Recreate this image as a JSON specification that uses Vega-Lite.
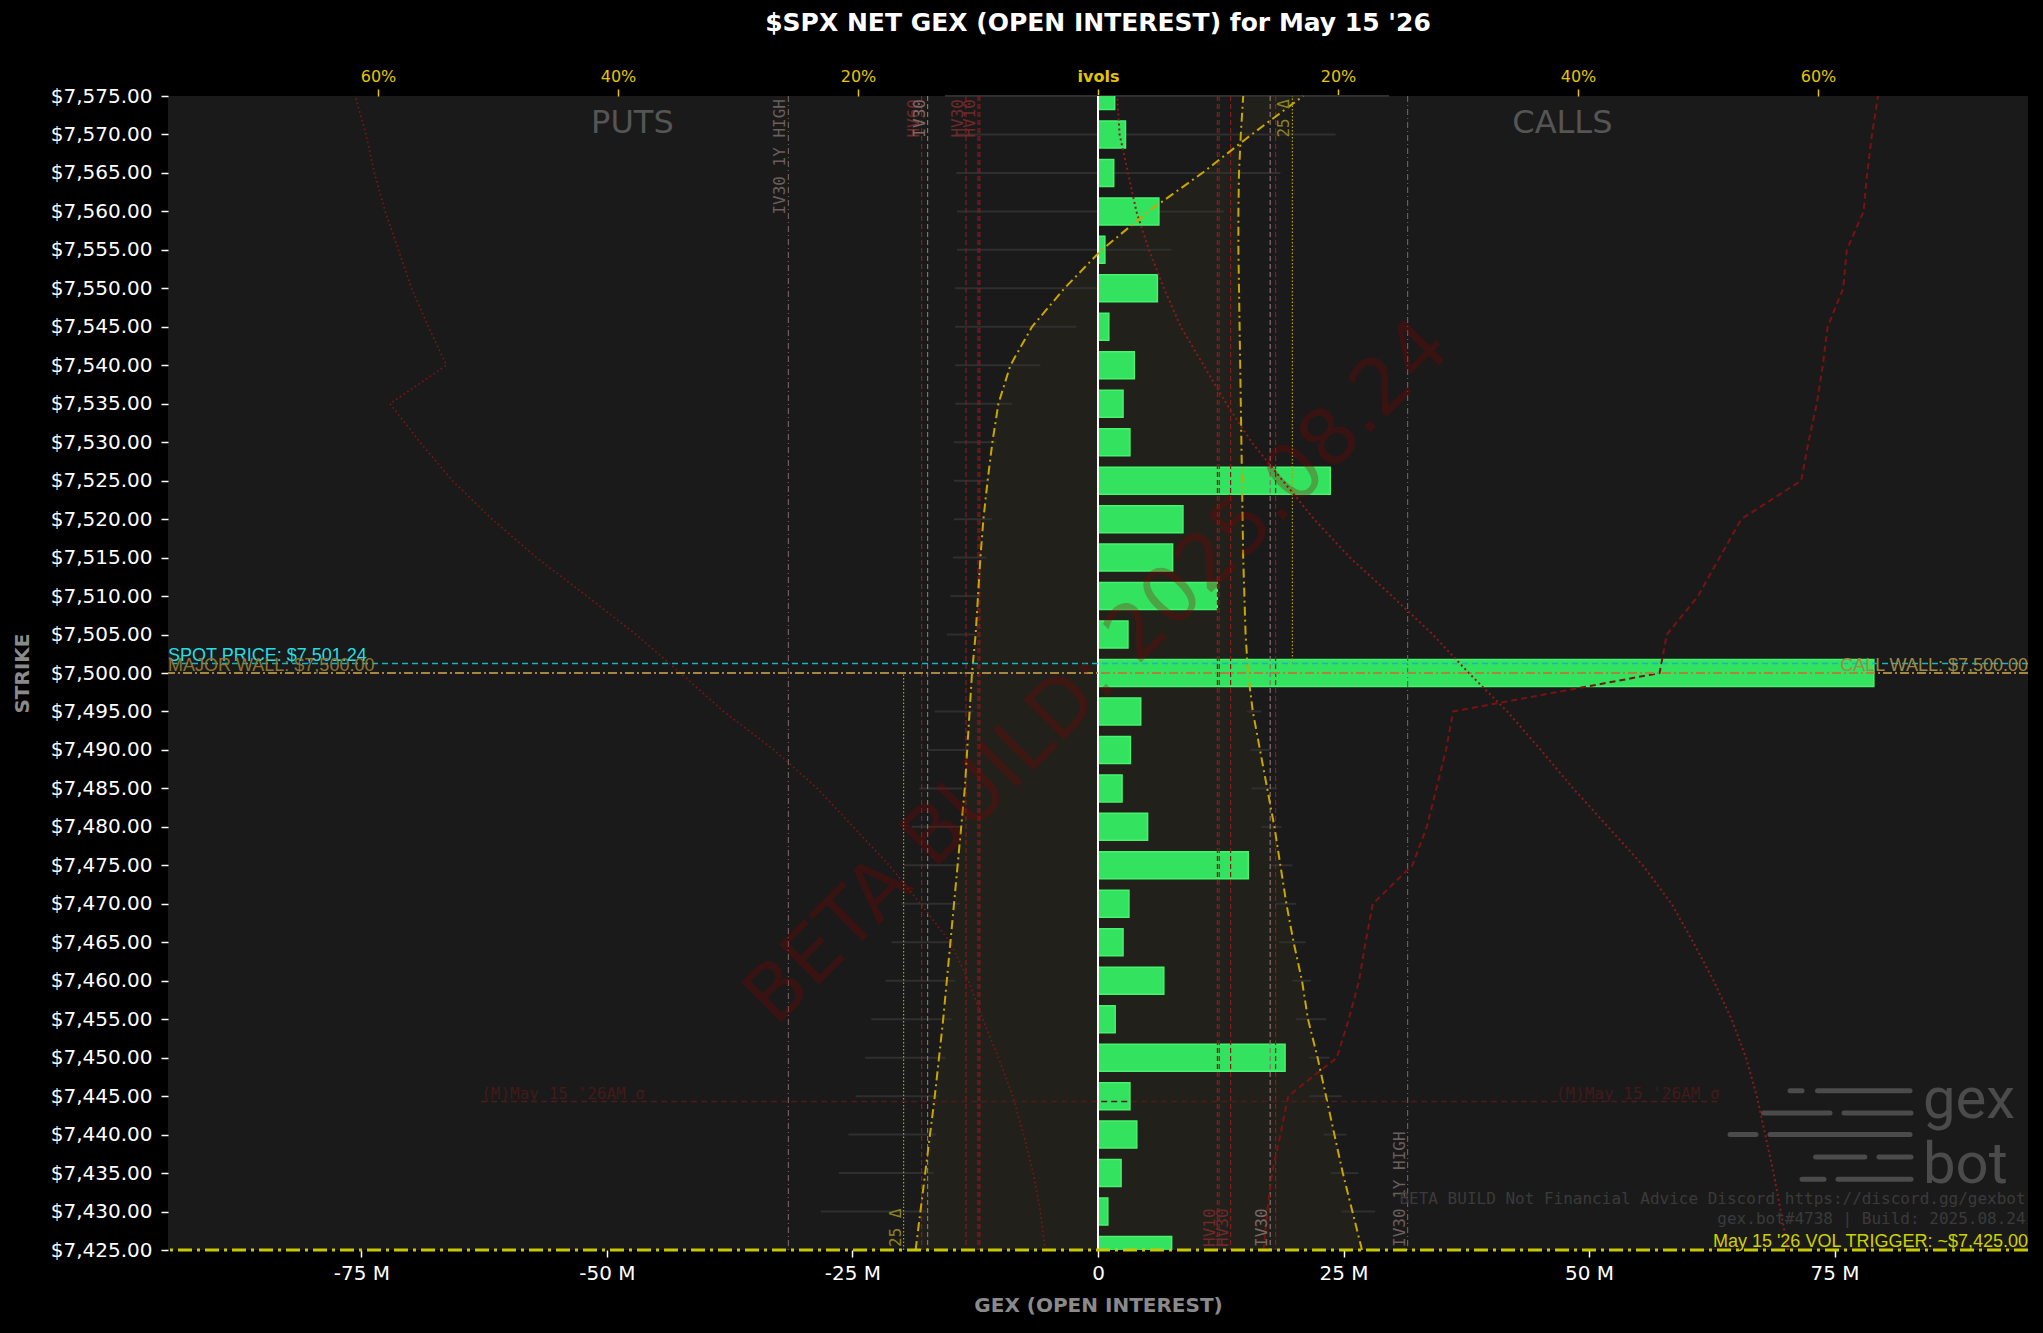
{
  "$schema": "https://vega.github.io/schema/vega-lite/v6.json",
  "width": 1860,
  "height": 1154,
  "autosize": {"type": "none"},
  "padding": {"left": 168, "top": 96, "right": 15, "bottom": 83},
  "background": "#000000",
  "title": {"text": "$SPX NET GEX (OPEN INTEREST) for May 15 '26", "color": "#ffffff", "font": "DejaVu Sans", "fontSize": 25, "fontWeight": "bold", "anchor": "middle", "frame": "group", "baseline": "alphabetic", "offset": 12},
  "config": {"view": {"fill": "#1a1a1a", "stroke": null}, "axis": {"grid": false, "domain": false}, "scale": {"continuousPadding": 0}},
  "resolve": {"scale": {"x": "independent"}, "axis": {"x": "independent", "y": "independent"}},
  "datasets": {
    "gex": [
      {"strike": 7575, "gex": 1.7}, {"strike": 7570, "gex": 2.8}, {"strike": 7565, "gex": 1.6}, {"strike": 7560, "gex": 6.2},
      {"strike": 7555, "gex": 0.7}, {"strike": 7550, "gex": 6.05}, {"strike": 7545, "gex": 1.1}, {"strike": 7540, "gex": 3.7},
      {"strike": 7535, "gex": 2.55}, {"strike": 7530, "gex": 3.25}, {"strike": 7525, "gex": 23.65}, {"strike": 7520, "gex": 8.65},
      {"strike": 7515, "gex": 7.6}, {"strike": 7510, "gex": 12.15}, {"strike": 7505, "gex": 3.05}, {"strike": 7500, "gex": 79.0},
      {"strike": 7495, "gex": 4.35}, {"strike": 7490, "gex": 3.3}, {"strike": 7485, "gex": 2.45}, {"strike": 7480, "gex": 5.05},
      {"strike": 7475, "gex": 15.3}, {"strike": 7470, "gex": 3.15}, {"strike": 7465, "gex": 2.55}, {"strike": 7460, "gex": 6.7},
      {"strike": 7455, "gex": 1.75}, {"strike": 7450, "gex": 19.05}, {"strike": 7445, "gex": 3.25}, {"strike": 7440, "gex": 3.95},
      {"strike": 7435, "gex": 2.35}, {"strike": 7430, "gex": 1.0}, {"strike": 7425, "gex": 7.5}
    ],
    "iv": [
      {"strike": 7575, "put": 17.1, "call": 12.1}, {"strike": 7570, "put": 12.8, "call": 11.9}, {"strike": 7565, "put": 8.7, "call": 11.75},
      {"strike": 7560, "put": 4.2, "call": 11.7}, {"strike": 7555, "put": 0.3, "call": 11.7}, {"strike": 7550, "put": -2.8, "call": 11.75},
      {"strike": 7545, "put": -5.5, "call": 11.8}, {"strike": 7540, "put": -7.3, "call": 11.85}, {"strike": 7535, "put": -8.3, "call": 11.9},
      {"strike": 7530, "put": -8.8, "call": 11.95}, {"strike": 7525, "put": -9.2, "call": 12.0}, {"strike": 7520, "put": -9.55, "call": 12.05},
      {"strike": 7515, "put": -9.8, "call": 12.1}, {"strike": 7510, "put": -10.0, "call": 12.2}, {"strike": 7505, "put": -10.2, "call": 12.3},
      {"strike": 7500, "put": -10.5, "call": 12.5}, {"strike": 7495, "put": -10.7, "call": 12.9}, {"strike": 7490, "put": -10.9, "call": 13.5},
      {"strike": 7485, "put": -11.1, "call": 14.1}, {"strike": 7480, "put": -11.4, "call": 14.7}, {"strike": 7475, "put": -11.7, "call": 15.2},
      {"strike": 7470, "put": -12.0, "call": 15.7}, {"strike": 7465, "put": -12.3, "call": 16.3}, {"strike": 7460, "put": -12.6, "call": 17.0},
      {"strike": 7455, "put": -12.9, "call": 17.5}, {"strike": 7450, "put": -13.25, "call": 18.3}, {"strike": 7445, "put": -13.6, "call": 19.0},
      {"strike": 7440, "put": -14.0, "call": 19.7}, {"strike": 7435, "put": -14.4, "call": 20.4}, {"strike": 7430, "put": -14.8, "call": 21.2},
      {"strike": 7425, "put": -15.2, "call": 22.0}
    ],
    "red": [
      {"strike": 7575, "a": -61.9, "b": 65.0, "c": 1.6}, {"strike": 7570, "a": -61.0, "b": 64.5, "c": 1.8},
      {"strike": 7565, "a": -60.3, "b": 64.1, "c": 2.5}, {"strike": 7560, "a": -59.4, "b": 63.8, "c": 3.2},
      {"strike": 7555, "a": -58.3, "b": 62.4, "c": 4.25}, {"strike": 7550, "a": -57.2, "b": 62.1, "c": 5.5},
      {"strike": 7545, "a": -55.8, "b": 60.8, "c": 6.9}, {"strike": 7540, "a": -54.3, "b": 60.4, "c": 8.8},
      {"strike": 7535, "a": -59.0, "b": 59.9, "c": 10.7}, {"strike": 7530, "a": -56.5, "b": 59.2, "c": 12.8},
      {"strike": 7525, "a": -53.8, "b": 58.6, "c": 15.4}, {"strike": 7520, "a": -50.5, "b": 53.6, "c": 18.0},
      {"strike": 7515, "a": -46.8, "b": 51.8, "c": 21.0}, {"strike": 7510, "a": -42.6, "b": 50.0, "c": 24.5},
      {"strike": 7505, "a": -38.5, "b": 47.4, "c": 27.9}, {"strike": 7500, "a": -34.8, "b": 46.8, "c": 30.9},
      {"strike": 7495, "a": -31.2, "b": 29.6, "c": 34.1}, {"strike": 7490, "a": -27.0, "b": 29.0, "c": 36.9},
      {"strike": 7485, "a": -23.4, "b": 28.2, "c": 39.6}, {"strike": 7480, "a": -20.4, "b": 27.4, "c": 42.5},
      {"strike": 7475, "a": -17.4, "b": 26.2, "c": 45.4}, {"strike": 7470, "a": -14.8, "b": 22.9, "c": 47.8},
      {"strike": 7465, "a": -12.3, "b": 22.3, "c": 49.6}, {"strike": 7460, "a": -10.8, "b": 21.75, "c": 51.3},
      {"strike": 7455, "a": -9.6, "b": 20.9, "c": 52.8}, {"strike": 7450, "a": -8.3, "b": 19.9, "c": 54.0},
      {"strike": 7445, "a": -7.1, "b": 15.85, "c": 54.9}, {"strike": 7440, "a": -6.2, "b": 15.2, "c": 55.6},
      {"strike": 7435, "a": -5.4, "b": 14.5, "c": 56.3}, {"strike": 7430, "a": -4.8, "b": 14.1, "c": 56.9},
      {"strike": 7425, "a": -4.4, "b": 13.8, "c": 57.5}
    ],
    "ranges": [
      {"strike": 7575, "lo": -12.75, "hi": 24.25}, {"strike": 7570, "lo": -11.9, "hi": 19.8}, {"strike": 7565, "lo": -11.8, "hi": 15.2},
      {"strike": 7560, "lo": -11.75, "hi": 10.5}, {"strike": 7555, "lo": -11.75, "hi": 6.1}, {"strike": 7550, "lo": -11.9, "hi": 1.8},
      {"strike": 7545, "lo": -11.9, "hi": -1.8}, {"strike": 7540, "lo": -11.9, "hi": -4.8}, {"strike": 7535, "lo": -11.9, "hi": -7.15},
      {"strike": 7530, "lo": -12.0, "hi": -8.5}, {"strike": 7525, "lo": -12.0, "hi": -9.1}, {"strike": 7520, "lo": -12.0, "hi": -8.85},
      {"strike": 7515, "lo": -12.1, "hi": -9.3}, {"strike": 7510, "lo": -12.3, "hi": -9.9}, {"strike": 7505, "lo": -12.6, "hi": -10.2},
      {"strike": 7500, "lo": -13.0, "hi": -10.4}, {"strike": 7495, "lo": -13.6, "hi": -10.4}, {"strike": 7490, "lo": -14.25, "hi": -10.8},
      {"strike": 7485, "lo": -14.9, "hi": -11.3}, {"strike": 7480, "lo": -15.5, "hi": -11.3}, {"strike": 7475, "lo": -16.2, "hi": -11.5},
      {"strike": 7470, "lo": -16.4, "hi": -11.5}, {"strike": 7465, "lo": -17.2, "hi": -12.1}, {"strike": 7460, "lo": -17.7, "hi": -11.9},
      {"strike": 7455, "lo": -18.9, "hi": -12.2}, {"strike": 7450, "lo": -19.4, "hi": -12.7}, {"strike": 7445, "lo": -20.2, "hi": -13.3},
      {"strike": 7440, "lo": -20.8, "hi": -13.5}, {"strike": 7435, "lo": -21.6, "hi": -13.7}, {"strike": 7430, "lo": -23.1, "hi": -14.3},
      {"strike": 7495, "lo": 12.4, "hi": 13.6}, {"strike": 7490, "lo": 12.7, "hi": 14.4}, {"strike": 7485, "lo": 12.8, "hi": 14.9},
      {"strike": 7480, "lo": 13.6, "hi": 15.3}, {"strike": 7475, "lo": 14.3, "hi": 16.2}, {"strike": 7470, "lo": 14.8, "hi": 16.5},
      {"strike": 7465, "lo": 15.1, "hi": 17.3}, {"strike": 7460, "lo": 16.2, "hi": 17.75}, {"strike": 7455, "lo": 16.5, "hi": 19.0},
      {"strike": 7450, "lo": 17.6, "hi": 19.3}, {"strike": 7445, "lo": 17.6, "hi": 20.3}, {"strike": 7440, "lo": 18.8, "hi": 20.7},
      {"strike": 7435, "lo": 19.4, "hi": 21.7}, {"strike": 7430, "lo": 20.3, "hi": 23.1}
    ],
    "logo": [
      {"strike": 7445.7, "lo": 57.67, "hi": 58.67}, {"strike": 7445.7, "lo": 59.96, "hi": 67.67},
      {"strike": 7442.8, "lo": 55.46, "hi": 61.0}, {"strike": 7442.8, "lo": 62.17, "hi": 67.75},
      {"strike": 7440.0, "lo": 52.67, "hi": 54.83}, {"strike": 7440.0, "lo": 56.0, "hi": 67.67},
      {"strike": 7437.1, "lo": 59.8, "hi": 63.9}, {"strike": 7437.1, "lo": 65.08, "hi": 67.75},
      {"strike": 7434.2, "lo": 58.67, "hi": 60.5}, {"strike": 7434.2, "lo": 61.67, "hi": 67.75}
    ]
  },
  "layer": [
    {
      "data": {"name": "iv"},
      "mark": {"type": "area", "orient": "horizontal", "color": "#ffd21f", "opacity": 0.035},
      "encoding": {
        "y": {"field": "strike", "type": "quantitative", "scale": {"domain": [7425, 7575], "nice": false, "zero": false, "padding": 0}, "axis": null},
        "x": {"field": "put", "type": "quantitative", "scale": {"domain": [-77.5, 77.5], "nice": false, "zero": false, "padding": 0},
              "axis": {"orient": "top", "title": null, "values": [-60, -40, -20, 0, 20, 40, 60],
                       "labelExpr": "datum.value == 0 ? 'ivols' : abs(datum.value) + '%'",
                       "labelColor": "#e8c400", "labelFont": "DejaVu Sans", "labelFontSize": 16,
                       "labelFontWeight": {"condition": {"test": "datum.value == 0", "value": "bold"}, "value": "normal"},
                       "tickColor": "#e8c400", "tickSize": 7, "tickWidth": 1.5, "labelPadding": 5, "domain": false, "grid": false}},
        "x2": {"field": "call"}
      }
    },
    {
      "data": {"name": "ranges"},
      "mark": {"type": "rule", "color": "#2f2f2f", "strokeWidth": 2},
      "encoding": {
        "y": {"field": "strike", "type": "quantitative", "scale": {"domain": [7425, 7575], "nice": false, "zero": false, "padding": 0}, "axis": null},
        "x": {"field": "lo", "type": "quantitative", "scale": {"domain": [-77.5, 77.5], "nice": false, "zero": false, "padding": 0}, "axis": null},
        "x2": {"field": "hi"}
      }
    },
    {
      "data": {"name": "gex"},
      "mark": {"type": "bar", "orient": "horizontal", "size": 27, "fill": "#33e35f", "stroke": "#45f36c", "strokeWidth": 1.5, "clip": true},
      "encoding": {
        "y": {"field": "strike", "type": "quantitative", "scale": {"domain": [7425, 7575], "nice": false, "zero": false, "padding": 0},
              "axis": {"orient": "left", "title": "STRIKE", "values": [7425, 7430, 7435, 7440, 7445, 7450, 7455, 7460, 7465, 7470, 7475, 7480, 7485, 7490, 7495, 7500, 7505, 7510, 7515, 7520, 7525, 7530, 7535, 7540, 7545, 7550, 7555, 7560, 7565, 7570, 7575],
                       "labelExpr": "'$' + format(datum.value, ',.2f')", "labelColor": "#ffffff", "labelFont": "DejaVu Sans", "labelFontSize": 20,
                       "tickColor": "#ffffff", "tickSize": 7, "tickWidth": 1.5, "labelPadding": 9,
                       "titleColor": "#8a8a8a", "titleFont": "DejaVu Sans", "titleFontSize": 20, "titleFontWeight": "bold", "titlePadding": 18,
                       "domain": false, "grid": false}},
        "x": {"field": "gex", "type": "quantitative", "scale": {"domain": [-94.7, 94.7], "nice": false, "zero": false, "padding": 0},
              "axis": {"orient": "bottom", "title": "GEX (OPEN INTEREST)", "values": [-75, -50, -25, 0, 25, 50, 75],
                       "labelExpr": "datum.value == 0 ? '0' : datum.value + ' M'", "labelColor": "#ffffff", "labelFont": "DejaVu Sans", "labelFontSize": 20,
                       "tickColor": "#ffffff", "tickSize": 7, "tickWidth": 1.5, "labelPadding": 6,
                       "titleColor": "#8a8a8a", "titleFont": "DejaVu Sans", "titleFontSize": 20, "titleFontWeight": "bold", "titlePadding": 12,
                       "domain": false, "grid": false}},
        "x2": {"datum": 0}
      }
    },
    {
      "data": {"values": [{"gex": 0}]},
      "mark": {"type": "rule", "color": "#ffffff", "strokeWidth": 2},
      "encoding": {
        "x": {"field": "gex", "type": "quantitative", "scale": {"domain": [-94.7, 94.7], "nice": false, "zero": false, "padding": 0}, "axis": null}
      }
    },
    {
      "data": {"values": [{"iv": -14.7}, {"iv": -11.0}, {"iv": -10.0}, {"iv": -9.85}, {"iv": 9.95}, {"iv": 10.1}, {"iv": 11.05}, {"iv": 14.8}]},
      "mark": {"type": "rule", "color": "#8b1a1a", "strokeWidth": 1.2, "strokeDash": [5, 3]},
      "encoding": {"x": {"field": "iv", "type": "quantitative", "scale": {"domain": [-77.5, 77.5], "nice": false, "zero": false, "padding": 0}, "axis": null}}
    },
    {
      "data": {"values": [{"iv": -14.2}, {"iv": 14.35}]},
      "mark": {"type": "rule", "color": "#8c7070", "strokeWidth": 1.2, "strokeDash": [5, 3]},
      "encoding": {"x": {"field": "iv", "type": "quantitative", "scale": {"domain": [-77.5, 77.5], "nice": false, "zero": false, "padding": 0}, "axis": null}}
    },
    {
      "data": {"values": [{"iv": -25.8}, {"iv": 25.8}]},
      "mark": {"type": "rule", "color": "#6e5c5c", "strokeWidth": 1.2, "strokeDash": [6, 3, 1, 3]},
      "encoding": {"x": {"field": "iv", "type": "quantitative", "scale": {"domain": [-77.5, 77.5], "nice": false, "zero": false, "padding": 0}, "axis": null}}
    },
    {
      "data": {"values": [{"iv": -16.2, "lo": 7425, "hi": 7500}, {"iv": 16.2, "lo": 7501.24, "hi": 7575}]},
      "mark": {"type": "rule", "color": "#b0a000", "strokeWidth": 1.2, "strokeDash": [1.5, 2]},
      "encoding": {
        "x": {"field": "iv", "type": "quantitative", "scale": {"domain": [-77.5, 77.5], "nice": false, "zero": false, "padding": 0}, "axis": null},
        "y": {"field": "lo", "type": "quantitative", "scale": {"domain": [7425, 7575], "nice": false, "zero": false, "padding": 0}, "axis": null},
        "y2": {"field": "hi"}
      }
    },
    {
      "data": {"name": "red"},
      "mark": {"type": "line", "color": "#851515", "strokeWidth": 1.6, "strokeDash": [1.5, 3]},
      "encoding": {
        "x": {"field": "a", "type": "quantitative", "scale": {"domain": [-77.5, 77.5], "nice": false, "zero": false, "padding": 0}, "axis": null},
        "y": {"field": "strike", "type": "quantitative", "scale": {"domain": [7425, 7575], "nice": false, "zero": false, "padding": 0}, "axis": null},
        "order": {"field": "strike", "type": "quantitative"}
      }
    },
    {
      "data": {"name": "red"},
      "mark": {"type": "line", "color": "#7a1212", "strokeWidth": 2, "strokeDash": [6, 4]},
      "encoding": {
        "x": {"field": "b", "type": "quantitative", "scale": {"domain": [-77.5, 77.5], "nice": false, "zero": false, "padding": 0}, "axis": null},
        "y": {"field": "strike", "type": "quantitative", "scale": {"domain": [7425, 7575], "nice": false, "zero": false, "padding": 0}, "axis": null},
        "order": {"field": "strike", "type": "quantitative"}
      }
    },
    {
      "data": {"name": "red"},
      "mark": {"type": "line", "color": "#8b1a1a", "strokeWidth": 2, "strokeDash": [2, 3]},
      "encoding": {
        "x": {"field": "c", "type": "quantitative", "scale": {"domain": [-77.5, 77.5], "nice": false, "zero": false, "padding": 0}, "axis": null},
        "y": {"field": "strike", "type": "quantitative", "scale": {"domain": [7425, 7575], "nice": false, "zero": false, "padding": 0}, "axis": null},
        "order": {"field": "strike", "type": "quantitative"}
      }
    },
    {
      "data": {"name": "iv"},
      "mark": {"type": "line", "color": "#c9a600", "strokeWidth": 2, "strokeDash": [9, 4, 2, 4]},
      "encoding": {
        "x": {"field": "put", "type": "quantitative", "scale": {"domain": [-77.5, 77.5], "nice": false, "zero": false, "padding": 0}, "axis": null},
        "y": {"field": "strike", "type": "quantitative", "scale": {"domain": [7425, 7575], "nice": false, "zero": false, "padding": 0}, "axis": null},
        "order": {"field": "strike", "type": "quantitative"}
      }
    },
    {
      "data": {"name": "iv"},
      "mark": {"type": "line", "color": "#c9a600", "strokeWidth": 2, "strokeDash": [9, 4, 2, 4]},
      "encoding": {
        "x": {"field": "call", "type": "quantitative", "scale": {"domain": [-77.5, 77.5], "nice": false, "zero": false, "padding": 0}, "axis": null},
        "y": {"field": "strike", "type": "quantitative", "scale": {"domain": [7425, 7575], "nice": false, "zero": false, "padding": 0}, "axis": null},
        "order": {"field": "strike", "type": "quantitative"}
      }
    },
    {
      "data": {"values": [{"strike": 7444.3, "lo": -51.4, "hi": 51.8}]},
      "mark": {"type": "rule", "color": "#4d1c1c", "strokeWidth": 1.5, "strokeDash": [6, 4]},
      "encoding": {
        "y": {"field": "strike", "type": "quantitative", "scale": {"domain": [7425, 7575], "nice": false, "zero": false, "padding": 0}, "axis": null},
        "x": {"field": "lo", "type": "quantitative", "scale": {"domain": [-77.5, 77.5], "nice": false, "zero": false, "padding": 0}, "axis": null},
        "x2": {"field": "hi"}
      }
    },
    {
      "data": {"values": [{"strike": 7501.24}]},
      "mark": {"type": "rule", "color": "#17b5bd", "strokeWidth": 1.5, "strokeDash": [6, 4]},
      "encoding": {"y": {"field": "strike", "type": "quantitative", "scale": {"domain": [7425, 7575], "nice": false, "zero": false, "padding": 0}, "axis": null}}
    },
    {
      "data": {"values": [{"strike": 7500}]},
      "mark": {"type": "rule", "color": "#a88640", "strokeWidth": 2, "strokeDash": [9, 3, 2, 3]},
      "encoding": {"y": {"field": "strike", "type": "quantitative", "scale": {"domain": [7425, 7575], "nice": false, "zero": false, "padding": 0}, "axis": null}}
    },
    {
      "data": {"values": [{"strike": 7425}]},
      "mark": {"type": "rule", "color": "#c8c800", "strokeWidth": 3, "strokeDash": [14, 5, 3, 5]},
      "encoding": {"y": {"field": "strike", "type": "quantitative", "scale": {"domain": [7425, 7575], "nice": false, "zero": false, "padding": 0}, "axis": null}}
    },
    {
      "data": {"values": [
        {"iv": -25.8, "t": "IV30 1Y HIGH", "k": "1Y"}, {"iv": -14.7, "t": "HV60", "k": "HV"}, {"iv": -14.2, "t": "IV30", "k": "IV30"},
        {"iv": -11.0, "t": "HV30", "k": "HV"}, {"iv": -10.0, "t": "HV10", "k": "HV"}, {"iv": 16.2, "t": "25 Δ", "k": "25D"}
      ]},
      "mark": {"type": "text", "angle": 270, "align": "right", "baseline": "bottom", "font": "DejaVu Sans Mono", "fontSize": 16, "dx": -3},
      "encoding": {
        "x": {"field": "iv", "type": "quantitative", "scale": {"domain": [-77.5, 77.5], "nice": false, "zero": false, "padding": 0}, "axis": null},
        "y": {"datum": 7575, "type": "quantitative", "scale": {"domain": [7425, 7575], "nice": false, "zero": false, "padding": 0}, "axis": null},
        "text": {"field": "t"},
        "color": {"field": "k", "type": "nominal", "scale": {"domain": ["HV", "IV30", "1Y", "25D"], "range": ["#6e2a2a", "#7a6868", "#6a5e5e", "#8a8420"]}, "legend": null}
      }
    },
    {
      "data": {"values": [
        {"iv": -16.2, "t": "25 Δ", "k": "25D"}, {"iv": 10.0, "t": "HV10", "k": "HV"}, {"iv": 11.05, "t": "HV30", "k": "HV"},
        {"iv": 14.35, "t": "IV30", "k": "IV30"}, {"iv": 25.8, "t": "IV30 1Y HIGH", "k": "1Y"}
      ]},
      "mark": {"type": "text", "angle": 270, "align": "left", "baseline": "bottom", "font": "DejaVu Sans Mono", "fontSize": 16, "dx": 3},
      "encoding": {
        "x": {"field": "iv", "type": "quantitative", "scale": {"domain": [-77.5, 77.5], "nice": false, "zero": false, "padding": 0}, "axis": null},
        "y": {"datum": 7425, "type": "quantitative", "scale": {"domain": [7425, 7575], "nice": false, "zero": false, "padding": 0}, "axis": null},
        "text": {"field": "t"},
        "color": {"field": "k", "type": "nominal", "scale": {"domain": ["HV", "IV30", "1Y", "25D"], "range": ["#6e2a2a", "#7a6868", "#6a5e5e", "#8a8420"]}, "legend": null}
      }
    },
    {
      "data": {"values": [{"iv": -51.4, "strike": 7444.3, "t": "(M)May 15 '26AM σ"}]},
      "mark": {"type": "text", "align": "left", "baseline": "alphabetic", "font": "DejaVu Sans Mono", "fontSize": 16, "dy": -3, "color": "#421a1a"},
      "encoding": {
        "x": {"field": "iv", "type": "quantitative", "scale": {"domain": [-77.5, 77.5], "nice": false, "zero": false, "padding": 0}, "axis": null},
        "y": {"field": "strike", "type": "quantitative", "scale": {"domain": [7425, 7575], "nice": false, "zero": false, "padding": 0}, "axis": null},
        "text": {"field": "t"}
      }
    },
    {
      "data": {"values": [{"iv": 51.8, "strike": 7444.3, "t": "(M)May 15 '26AM σ"}]},
      "mark": {"type": "text", "align": "right", "baseline": "alphabetic", "font": "DejaVu Sans Mono", "fontSize": 16, "dy": -3, "color": "#421a1a"},
      "encoding": {
        "x": {"field": "iv", "type": "quantitative", "scale": {"domain": [-77.5, 77.5], "nice": false, "zero": false, "padding": 0}, "axis": null},
        "y": {"field": "strike", "type": "quantitative", "scale": {"domain": [7425, 7575], "nice": false, "zero": false, "padding": 0}, "axis": null},
        "text": {"field": "t"}
      }
    },
    {
      "data": {"values": [{"iv": -38.8, "t": "PUTS"}, {"iv": 38.7, "t": "CALLS"}]},
      "mark": {"type": "text", "align": "center", "baseline": "alphabetic", "font": "DejaVu Sans", "fontSize": 32, "color": "#555555"},
      "encoding": {
        "x": {"field": "iv", "type": "quantitative", "scale": {"domain": [-77.5, 77.5], "nice": false, "zero": false, "padding": 0}, "axis": null},
        "y": {"datum": 7570.2, "type": "quantitative", "scale": {"domain": [7425, 7575], "nice": false, "zero": false, "padding": 0}, "axis": null},
        "text": {"field": "t"}
      }
    },
    {
      "data": {"values": [{"iv": -77.5, "strike": 7501.24, "t": "SPOT PRICE: $7,501.24"}]},
      "mark": {"type": "text", "align": "left", "baseline": "alphabetic", "font": "Liberation Sans", "fontSize": 18, "dy": -2, "color": "#22dfe6"},
      "encoding": {
        "x": {"field": "iv", "type": "quantitative", "scale": {"domain": [-77.5, 77.5], "nice": false, "zero": false, "padding": 0}, "axis": null},
        "y": {"field": "strike", "type": "quantitative", "scale": {"domain": [7425, 7575], "nice": false, "zero": false, "padding": 0}, "axis": null},
        "text": {"field": "t"}
      }
    },
    {
      "data": {"values": [{"iv": -77.5, "strike": 7500, "t": "MAJOR WALL: $7,500.00"}]},
      "mark": {"type": "text", "align": "left", "baseline": "alphabetic", "font": "Liberation Sans", "fontSize": 18, "dy": -2, "color": "#8e7535"},
      "encoding": {
        "x": {"field": "iv", "type": "quantitative", "scale": {"domain": [-77.5, 77.5], "nice": false, "zero": false, "padding": 0}, "axis": null},
        "y": {"field": "strike", "type": "quantitative", "scale": {"domain": [7425, 7575], "nice": false, "zero": false, "padding": 0}, "axis": null},
        "text": {"field": "t"}
      }
    },
    {
      "data": {"values": [{"iv": 77.5, "strike": 7500, "t": "CALL WALL: $7,500.00"}]},
      "mark": {"type": "text", "align": "right", "baseline": "alphabetic", "font": "Liberation Sans", "fontSize": 18, "dy": -2, "color": "#a08a45"},
      "encoding": {
        "x": {"field": "iv", "type": "quantitative", "scale": {"domain": [-77.5, 77.5], "nice": false, "zero": false, "padding": 0}, "axis": null},
        "y": {"field": "strike", "type": "quantitative", "scale": {"domain": [7425, 7575], "nice": false, "zero": false, "padding": 0}, "axis": null},
        "text": {"field": "t"}
      }
    },
    {
      "data": {"values": [{"iv": 77.3, "strike": 7431.6, "t": "BETA BUILD Not Financial Advice Discord https://discord.gg/gexbot"}, {"iv": 77.3, "strike": 7429.0, "t": "gex.bot#4738 | Build: 2025.08.24"}]},
      "mark": {"type": "text", "align": "right", "baseline": "middle", "font": "DejaVu Sans Mono", "fontSize": 16, "color": "#3b3b3b"},
      "encoding": {
        "x": {"field": "iv", "type": "quantitative", "scale": {"domain": [-77.5, 77.5], "nice": false, "zero": false, "padding": 0}, "axis": null},
        "y": {"field": "strike", "type": "quantitative", "scale": {"domain": [7425, 7575], "nice": false, "zero": false, "padding": 0}, "axis": null},
        "text": {"field": "t"}
      }
    },
    {
      "data": {"values": [{"iv": 77.5, "strike": 7425, "t": "May 15 '26 VOL TRIGGER: ~$7,425.00"}]},
      "mark": {"type": "text", "align": "right", "baseline": "alphabetic", "font": "Liberation Sans", "fontSize": 18, "dy": -3, "color": "#d0d000"},
      "encoding": {
        "x": {"field": "iv", "type": "quantitative", "scale": {"domain": [-77.5, 77.5], "nice": false, "zero": false, "padding": 0}, "axis": null},
        "y": {"field": "strike", "type": "quantitative", "scale": {"domain": [7425, 7575], "nice": false, "zero": false, "padding": 0}, "axis": null},
        "text": {"field": "t"}
      }
    },
    {
      "data": {"name": "logo"},
      "mark": {"type": "rule", "color": "#4b4b4b", "strokeWidth": 5, "strokeCap": "round"},
      "encoding": {
        "y": {"field": "strike", "type": "quantitative", "scale": {"domain": [7425, 7575], "nice": false, "zero": false, "padding": 0}, "axis": null},
        "x": {"field": "lo", "type": "quantitative", "scale": {"domain": [-77.5, 77.5], "nice": false, "zero": false, "padding": 0}, "axis": null},
        "x2": {"field": "hi"}
      }
    },
    {
      "data": {"values": [{"iv": 68.75, "strike": 7442.1, "t": "gex"}, {"iv": 68.75, "strike": 7433.7, "t": "bot"}]},
      "mark": {"type": "text", "align": "left", "baseline": "alphabetic", "font": "Roboto", "fontSize": 58, "color": "#4b4b4b"},
      "encoding": {
        "x": {"field": "iv", "type": "quantitative", "scale": {"domain": [-77.5, 77.5], "nice": false, "zero": false, "padding": 0}, "axis": null},
        "y": {"field": "strike", "type": "quantitative", "scale": {"domain": [7425, 7575], "nice": false, "zero": false, "padding": 0}, "axis": null},
        "text": {"field": "t"}
      }
    },
    {
      "data": {"values": [{"iv": 0, "strike": 7500, "t": "BETA BUILD: 2025.08.24"}]},
      "mark": {"type": "text", "align": "center", "baseline": "middle", "angle": 315, "font": "DejaVu Sans", "fontSize": 78, "color": "#8b0000", "opacity": 0.28},
      "encoding": {
        "x": {"field": "iv", "type": "quantitative", "scale": {"domain": [-77.5, 77.5], "nice": false, "zero": false, "padding": 0}, "axis": null},
        "y": {"field": "strike", "type": "quantitative", "scale": {"domain": [7425, 7575], "nice": false, "zero": false, "padding": 0}, "axis": null},
        "text": {"field": "t"}
      }
    }
  ]
}
